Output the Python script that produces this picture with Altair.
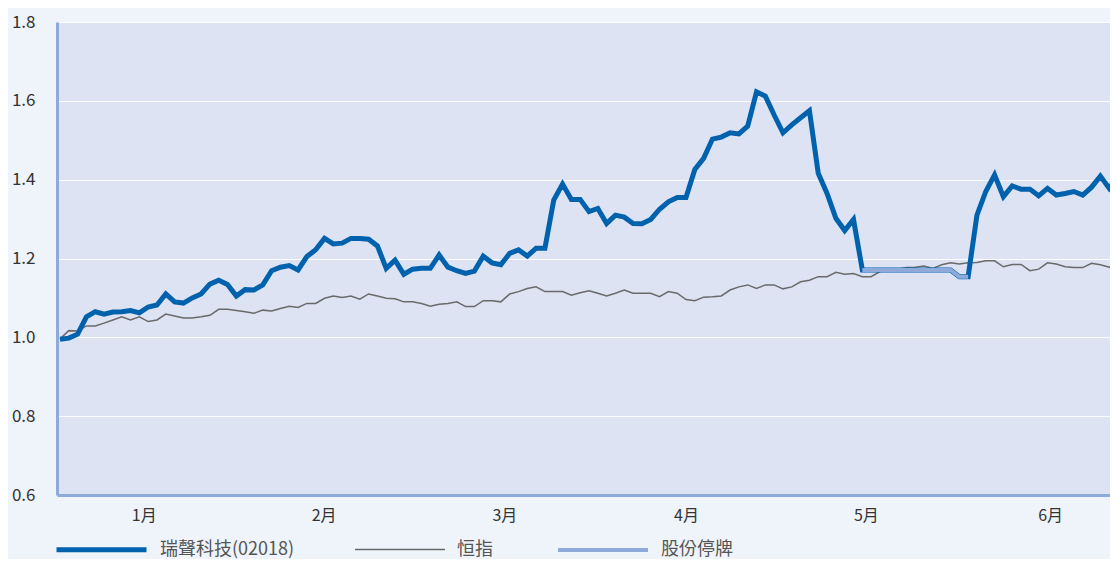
import altair as alt
import pandas as pd

FONT = "Noto Sans CJK TC"

stock_name = "瑞聲科技(02018)"
index_name = "恒指"
halt_name = "股份停牌"
series_names = [stock_name, index_name, halt_name]
series_colors = ["#0061ad", "#6a6a6a", "#8eaadb"]
series_widths = [5, 1.5, 4]

month_labels = ["1月", "2月", "3月", "4月", "5月", "6月"]
month_pos = [9.5, 29.9, 50.4, 71.0, 91.4, 112.3]

y_ticks = [0.6, 0.8, 1.0, 1.2, 1.4, 1.6, 1.8]

stock = [
    0.995, 0.998, 1.008, 1.052, 1.065, 1.059, 1.064, 1.065, 1.068, 1.062,
    1.077, 1.082, 1.110, 1.090, 1.087, 1.100, 1.110, 1.135, 1.145, 1.134,
    1.105, 1.121, 1.120, 1.133, 1.169, 1.178, 1.182, 1.171, 1.205, 1.222,
    1.251, 1.237, 1.239, 1.251, 1.251, 1.249, 1.232, 1.175, 1.196, 1.160,
    1.173, 1.175, 1.175, 1.209, 1.178, 1.169, 1.162, 1.168, 1.206, 1.189,
    1.184, 1.213, 1.222, 1.206, 1.226, 1.226, 1.348, 1.389, 1.350, 1.350,
    1.319, 1.327, 1.289, 1.310, 1.305, 1.289, 1.288, 1.299, 1.325, 1.344,
    1.355, 1.355, 1.426, 1.454, 1.503, 1.508, 1.519, 1.516, 1.536, 1.623,
    1.612, 1.564, 1.519, 1.539, 1.557, 1.575, 1.416, 1.365, 1.302, 1.271,
    1.299, 1.171, 1.171, 1.171, 1.171, 1.171, 1.171, 1.171, 1.171, 1.171,
    1.171, 1.171, 1.154, 1.154, 1.310, 1.370, 1.412, 1.357, 1.384, 1.376,
    1.376, 1.359, 1.378, 1.361, 1.365, 1.370, 1.361, 1.381, 1.409, 1.378,
    1.408,
]

hsi = [
    0.996, 1.017, 1.016, 1.029, 1.029, 1.036, 1.044, 1.052, 1.044, 1.052,
    1.040, 1.044, 1.059, 1.054, 1.049, 1.049, 1.052, 1.056, 1.071, 1.071,
    1.068, 1.065, 1.061, 1.069, 1.067, 1.073, 1.079, 1.076, 1.086, 1.086,
    1.099, 1.105, 1.101, 1.105, 1.097, 1.110, 1.105, 1.099, 1.098, 1.090,
    1.090, 1.086, 1.079, 1.084, 1.086, 1.090, 1.078, 1.078, 1.093, 1.093,
    1.090, 1.110, 1.116, 1.124, 1.128, 1.116, 1.116, 1.116, 1.107, 1.113,
    1.118, 1.112, 1.105, 1.112, 1.120, 1.112, 1.112, 1.112, 1.103, 1.116,
    1.112, 1.096, 1.093, 1.102, 1.103, 1.105, 1.120, 1.128, 1.133, 1.124,
    1.133, 1.133, 1.123, 1.128, 1.141, 1.145, 1.154, 1.154, 1.165, 1.160,
    1.162, 1.154, 1.154, 1.167, 1.171, 1.173, 1.177, 1.178, 1.181, 1.175,
    1.184, 1.189, 1.186, 1.189, 1.190, 1.194, 1.194, 1.179, 1.185, 1.185,
    1.169, 1.173, 1.189, 1.186, 1.179, 1.177, 1.177, 1.188, 1.184, 1.178,
    1.188,
]

halt_first, halt_last = 91, 103

rows = []
for d, v in enumerate(hsi):
    rows.append({"day": d, "value": v, "series": index_name})
for d, v in enumerate(stock):
    rows.append({"day": d, "value": v, "series": stock_name})
for d in range(halt_first, halt_last + 1):
    rows.append({"day": d, "value": stock[d], "series": halt_name})
df = pd.DataFrame(rows)

label_expr = ""
for p, lab in zip(month_pos, month_labels):
    label_expr += f"abs(datum.value - {p}) < 0.01 ? '{lab}' : "
label_expr += "''"

legend = alt.Legend(
    title=None, orient="none", legendX=-3, legendY=480,
    direction="horizontal", symbolType="stroke", symbolSize=8100,
    labelFontSize=18, labelFont=FONT, labelColor="#555555",
    labelOffset=11, columnPadding=57, padding=0,
)

x_enc = alt.X(
    "day:Q",
    scale=alt.Scale(domain=[-0.34, 119.09], nice=False, zero=False),
    axis=alt.Axis(
        values=month_pos, labelExpr=label_expr, title=None, grid=False,
        ticks=False, tickSize=0, domain=True, domainColor="#8eaadb", domainWidth=3,
        labelFontSize=16, labelFont=FONT, labelColor="#333333",
        labelPadding=12, labelFlush=False, labelOverlap=False,
    ),
)
y_enc = alt.Y(
    "value:Q",
    scale=alt.Scale(domain=[0.6, 1.8], nice=False, zero=False),
    axis=alt.Axis(
        values=y_ticks, format=".1f", title=None, ticks=False, tickSize=0,
        grid=True, gridColor="#ffffff", gridWidth=1, gridOpacity=0.9,
        domain=True, domainColor="#8eaadb", domainWidth=3,
        labelFontSize=17, labelFont=FONT, labelColor="#333333",
        labelPadding=22,
    ),
)
color_enc = alt.Color(
    "series:N", scale=alt.Scale(domain=series_names, range=series_colors),
    legend=legend,
)
width_enc = alt.StrokeWidth(
    "series:N", scale=alt.Scale(type="ordinal", domain=series_names, range=series_widths),
    legend=legend,
)

base = alt.Chart(df)
layers = []
for name in [index_name, stock_name, halt_name]:
    layers.append(
        base.transform_filter(alt.datum.series == name)
        .mark_line(strokeJoin="miter")
        .encode(x=x_enc, y=y_enc, color=color_enc, strokeWidth=width_enc)
    )

chart = (
    alt.layer(*layers)
    .properties(
        width=1053, height=473,
        padding={"left": 49, "top": 14, "right": 0, "bottom": 64},
        autosize=alt.AutoSizeParams(type="none"),
        background="#eff3fa",
    )
    .configure_view(fill="#dde3f3", strokeWidth=0)
)

chart.save("out.html", embed_options={"renderer": "svg", "actions": False})
